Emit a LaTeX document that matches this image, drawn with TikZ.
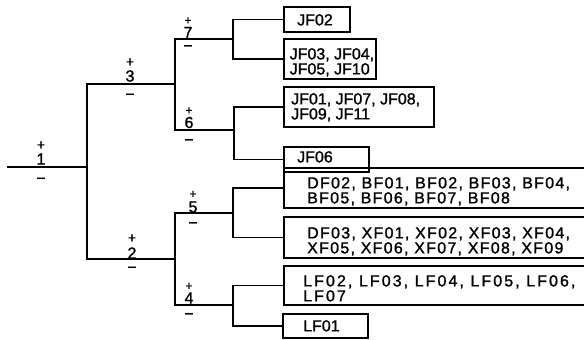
\documentclass[tikz,border=0pt]{standalone}
\usepackage{fontspec}
\setmainfont{Liberation Sans}[FakeBold=1.3]
\begin{document}
\begin{tikzpicture}[x=1pt,y=-1pt,
  conn/.style={line width=1.6pt},
  box/.style={draw, line width=1.5pt, inner sep=0pt, rectangle},
  txt/.style={inner sep=0pt, anchor=north west, align=left, font=\fontsize{16}{15}\selectfont},
  dfsp/.style={font={\fontsize{16}{15}\selectfont\addfontfeature{LetterSpace=8}}},
  lfsp/.style={font={\fontsize{16}{15}\selectfont\addfontfeature{LetterSpace=13}}},
  num/.style={inner sep=0pt, font=\fontsize{16}{16}\selectfont},
  plus/.style={inner sep=0pt, font=\fontsize{12}{12}\selectfont},
  bigplus/.style={inner sep=0pt, font=\fontsize{14}{14}\selectfont},
  minus/.style={inner sep=0pt, anchor=base, font=\fontsize{16}{16}\selectfont}]
\path[use as bounding box] (0,0) rectangle (584,340);
\clip (0,0) rectangle (584,340);

% junction coordinates
\coordinate (s1) at (7,167);
\coordinate (c1) at (87,167);
\coordinate (c3) at (175,84);
\coordinate (c2) at (175,259);
\coordinate (c7) at (233,39);
\coordinate (c6) at (234,130);
\coordinate (c5) at (233,213);
\coordinate (c4) at (233,305);

% leaf boxes
\node[box, minimum width=66pt, minimum height=25pt] (jf02) at (317,19.5) {};
\node[box, minimum width=92pt, minimum height=40pt] (jf03) at (330,59) {};
\node[box, minimum width=150pt, minimum height=40pt] (jf01) at (359,107) {};
\node[box, minimum width=85pt, minimum height=25pt] (jf06) at (326.5,159.5) {};
\node[box, minimum width=320pt, minimum height=40pt] (df02) at (444,188) {};
\node[box, minimum width=320pt, minimum height=41pt] (df03) at (444,237.5) {};
\node[box, minimum width=320pt, minimum height=39pt] (lf02) at (444,285.5) {};
\node[box, minimum width=85pt, minimum height=24pt] (lf01) at (325.5,326) {};

% box texts
\node[txt] (t02) at (297,14) {JF02};
\node[txt] (t03) at (289.5,48) {JF03, JF04,\\JF05, JF10};
\node[txt] (t01) at (291,93) {JF01, JF07, JF08,\\JF09, JF11};
\node[txt] (t06) at (297,151) {JF06};
\node[txt, dfsp] (tdf2) at (307,177) {DF02, BF01, BF02, BF03, BF04,\\BF05, BF06, BF07, BF08};
\node[txt, dfsp] (tdf3) at (307,227) {DF03, XF01, XF02, XF03, XF04,\\XF05, XF06, XF07, XF08, XF09};
\node[txt, lfsp] (tlf2) at (303,275) {LF02, LF03, LF04, LF05, LF06,\\LF07};
\node[txt] (tlf1) at (303,320) {LF01};

% connectors
\draw[conn] (s1) -- (c1);
\draw[conn] (c3) -| (c1) |- (c2);
\draw[conn] (c7) -| (c3) |- (c6);
\draw[conn] (c5) -| (c2) |- (c4);
\draw[conn] (jf02.west) -| (c7) |- (jf03.west);
\draw[conn] (jf01.west) -| (c6) |- (jf06.west);
\draw[conn] (df02.west) -| (c5) |- (df03.west);
\draw[conn] (lf02.west) -| (c4) |- (lf01.west);

% branch labels
\node[bigplus] (p1) at (41,145.5) {+};
\node[num] (n1) at (41,159) {1};
\node[minus] (m1) at (41,183.5) {−};

\node[bigplus] (p3) at (130,62.5) {+};
\node[num] (n3) at (130,76) {3};
\node[minus] (m3) at (130,99.5) {−};

\node[bigplus] (p2) at (132,238.5) {+};
\node[num] (n2) at (132,253) {2};
\node[minus] (m2) at (132,272.5) {−};

\node[plus] (p7) at (188,21) {+};
\node[num] (n7) at (188,32.5) {7};
\node[minus] (m7) at (188,51) {−};

\node[plus] (p6) at (189,111) {+};
\node[num] (n6) at (189,122.5) {6};
\node[minus] (m6) at (189,145) {−};

\node[plus] (p5) at (193,194.5) {+};
\node[num] (n5) at (193,207) {5};
\node[minus] (m5) at (193,228) {−};

\node[plus] (p4) at (189,286.5) {+};
\node[num] (n4) at (189,298) {4};
\node[minus] (m4) at (189,319) {−};
\end{tikzpicture}
\end{document}
